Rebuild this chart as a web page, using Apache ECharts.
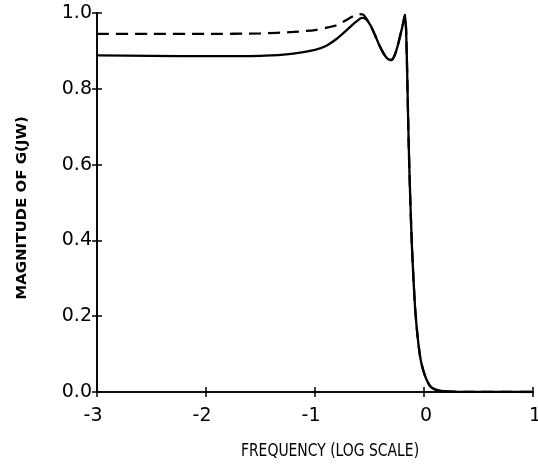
<!DOCTYPE html>
<html>
<head>
<meta charset="utf-8">
<script src="https://cdn.jsdelivr.net/npm/echarts@6/dist/echarts.min.js"></script>
<style>html,body{margin:0;padding:0;background:#fff;}#c{width:538px;height:467px;}</style>
</head>
<body>
<div id="c"></div>
<script>
// log10 frequency values and magnitudes
var solidX = [-3, -2.5, -2, -1.6, -1.4, -1.2, -1.0, -0.9, -0.8, -0.72, -0.66, -0.61, -0.57, -0.53, -0.49, -0.45, -0.41, -0.37, -0.33, -0.3, -0.27, -0.24, -0.21, -0.19, -0.175, -0.165, -0.155, -0.14, -0.125, -0.11, -0.095, -0.08, -0.06, -0.035, -0.01, 0.02, 0.055, 0.1, 0.16, 0.25, 0.4, 0.7, 1];
var solidY = [0.888, 0.887, 0.886, 0.886, 0.888, 0.893, 0.903, 0.913, 0.932, 0.952, 0.968, 0.98, 0.987, 0.983, 0.967, 0.942, 0.915, 0.893, 0.878, 0.876, 0.888, 0.915, 0.95, 0.975, 0.995, 0.96, 0.85, 0.65, 0.5, 0.38, 0.29, 0.215, 0.15, 0.092, 0.06, 0.035, 0.016, 0.007, 0.003, 0.001, 0.0005, 0.0002, 0];
var dashedX = [-3, -2.5, -2, -1.5, -1.2, -1.0, -0.9, -0.8, -0.72, -0.66, -0.6, -0.56, -0.53];
var dashedY = [0.945, 0.945, 0.945, 0.946, 0.95, 0.955, 0.961, 0.968, 0.98, 0.99, 0.997, 0.996, 0.986];
var xTickLabels = ['-3', '-2', '-1', '0', '1'];
var yTickLabels = ['0.0', '0.2', '0.4', '0.6', '0.8', '1.0'];
var xTitle = 'FREQUENCY (LOG SCALE)';
var yTitle = 'MAGNITUDE OF G(JW)';

function pairs(xs, ys) { return xs.map(function (x, i) { return [x, ys[i]]; }); }
// dashed follows the solid curve after the peak
var dashedData = pairs(dashedX, dashedY).concat(pairs(solidX, solidY).filter(function (p) { return p[0] > -0.53; }));

var font = 'DejaVu Sans';
var axisLine = { show: true, onZero: false, lineStyle: { color: '#000', width: 1.6 } };
function xFmt(v) {
  var s = xTickLabels[Math.round(v) + 3];
  return s.charAt(0) === '-' ? s : '{p|' + s + '}';
}
function yFmt(v) { return yTickLabels[Math.round(v * 5)]; }

var chart = echarts.init(document.getElementById('c'), null, { renderer: 'canvas' });
chart.setOption({
  animation: false,
  backgroundColor: '#fff',
  grid: { left: 97, right: 5, top: 13, bottom: 75, containLabel: false, outerBoundsMode: 'none' },
  xAxis: [
    { type: 'value', position: 'bottom', min: -3, max: 1, interval: 1, axisLine: axisLine,
      axisTick: { show: true, length: 5, lineStyle: { color: '#000', width: 1.5 } },
      axisLabel: { formatter: xFmt, color: '#000', fontFamily: font, fontSize: 19, margin: 15,
        padding: [0, 8, 0, 0],
        rich: { p: { color: '#000', fontFamily: font, fontSize: 19, padding: [0, 0, 0, 12] } } },
      splitLine: { show: false } },
    { type: 'value', position: 'bottom', min: -3, max: 1, interval: 1, axisLine: axisLine,
      axisTick: { show: true, inside: true, length: 5, lineStyle: { color: '#000', width: 1.5 } },
      axisLabel: { show: false }, splitLine: { show: false } }
  ],
  yAxis: [
    { type: 'value', position: 'left', min: 0, max: 1, interval: 0.2, axisLine: axisLine,
      axisTick: { show: true, length: 5, lineStyle: { color: '#000', width: 1.5 } },
      axisLabel: { formatter: yFmt, color: '#000', fontFamily: font, fontSize: 19, margin: 5 },
      splitLine: { show: false } },
    { type: 'value', position: 'left', min: 0, max: 1, interval: 0.2, axisLine: axisLine,
      axisTick: { show: true, inside: true, length: 5, lineStyle: { color: '#000', width: 1.5 } },
      axisLabel: { show: false }, splitLine: { show: false } }
  ],
  graphic: [
    { type: 'text', x: 330, y: 451, scaleX: 0.86, style: { text: xTitle, fill: '#000', textAlign: 'center', textVerticalAlign: 'middle', font: '18px "DejaVu Sans Condensed"' } },
    { type: 'text', x: 22, y: 208, rotation: Math.PI / 2, scaleX: 1.19, style: { text: yTitle, fill: '#000', textAlign: 'center', textVerticalAlign: 'middle', font: 'bold 14px "DejaVu Sans Condensed"' } }
  ],
  series: [
    { type: 'line', xAxisIndex: 0, yAxisIndex: 0, data: pairs(solidX, solidY), showSymbol: false, smooth: 0.25,
      lineStyle: { color: '#000', width: 2.3 } },
    { type: 'line', xAxisIndex: 0, yAxisIndex: 0, data: dashedData, showSymbol: false, smooth: 0.25,
      lineStyle: { color: '#000', width: 2.3, type: [12, 7] } }
  ]
});
</script>
</body>
</html>
